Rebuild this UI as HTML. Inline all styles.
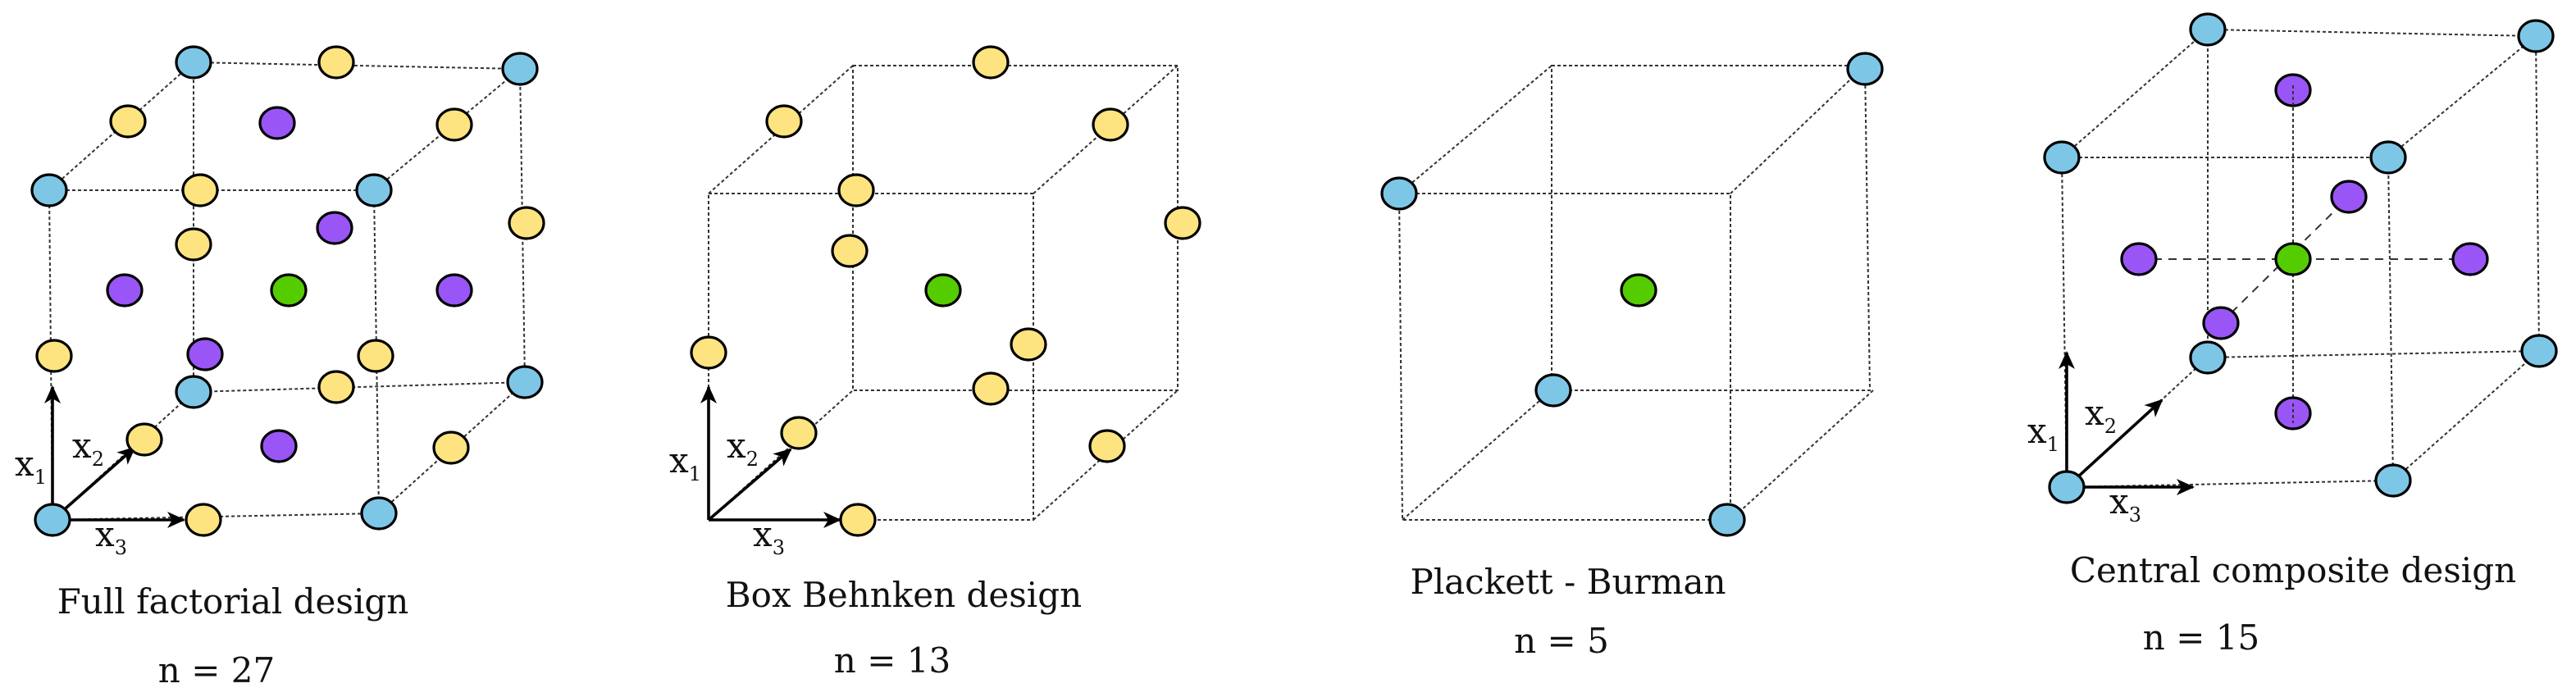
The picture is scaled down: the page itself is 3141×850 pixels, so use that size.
<!DOCTYPE html>
<html><head><meta charset="utf-8"><style>
html,body{margin:0;padding:0;background:#fff;}
svg{display:block;}
text{font-family:"DejaVu Serif","Liberation Serif",serif;fill:#111;}
</style></head><body>
<svg width="3141" height="850" viewBox="0 0 1570.5 425" xmlns="http://www.w3.org/2000/svg">
<defs>
<marker id="ah" markerWidth="12" markerHeight="10" refX="10" refY="5" orient="auto" markerUnits="userSpaceOnUse">
<path d="M0,0 L11,5 L0,10 L3,5 Z" fill="#000"/>
</marker>
<style>
.d{stroke:#333;stroke-width:1;stroke-dasharray:2,1.5;fill:none}
.ds{stroke:#333;stroke-width:1;stroke-dasharray:5,4;fill:none}
.b{fill:#7ec6e6;stroke:#000;stroke-width:1.6}
.y{fill:#fde480;stroke:#000;stroke-width:1.6}
.p{fill:#9955f5;stroke:#000;stroke-width:1.6}
.g{fill:#55cc00;stroke:#000;stroke-width:1.6}
.ax{stroke:#000;stroke-width:1.8;fill:none}
.lab{font-size:21px}
.sub{font-size:12px}
</style>
</defs>

<!-- Panel 1 -->
<g>
<path class="d" d="M118,38 L317,42 L320,233 L118,239 Z M30,116 L228,116 L231,313 L32,317 Z M30,116 L118,38 M228,116 L317,42 M231,313 L320,233 M32,317 L118,239"/>
<line class="ax" x1="32" y1="317" x2="32" y2="236" marker-end="url(#ah)"/>
<line class="ax" x1="32" y1="317" x2="82" y2="273" marker-end="url(#ah)"/>
<line class="ax" x1="32" y1="317" x2="112" y2="317" marker-end="url(#ah)"/>
<ellipse class="b" cx="118" cy="38" rx="10.5" ry="9.5"/><ellipse class="b" cx="317" cy="42" rx="10.5" ry="9.5"/>
<ellipse class="b" cx="30" cy="116" rx="10.5" ry="9.5"/><ellipse class="b" cx="228" cy="116" rx="10.5" ry="9.5"/>
<ellipse class="b" cx="118" cy="239" rx="10.5" ry="9.5"/><ellipse class="b" cx="320" cy="233" rx="10.5" ry="9.5"/>
<ellipse class="b" cx="32" cy="317" rx="10.5" ry="9.5"/><ellipse class="b" cx="231" cy="313" rx="10.5" ry="9.5"/>
<ellipse class="y" cx="205" cy="38" rx="10.5" ry="9.5"/><ellipse class="y" cx="78" cy="74" rx="10.5" ry="9.5"/>
<ellipse class="y" cx="277" cy="76" rx="10.5" ry="9.5"/><ellipse class="y" cx="122" cy="116" rx="10.5" ry="9.5"/>
<ellipse class="y" cx="321" cy="136" rx="10.5" ry="9.5"/><ellipse class="y" cx="118" cy="149" rx="10.5" ry="9.5"/>
<ellipse class="y" cx="33" cy="217" rx="10.5" ry="9.5"/><ellipse class="y" cx="229" cy="217" rx="10.5" ry="9.5"/>
<ellipse class="y" cx="205" cy="236" rx="10.5" ry="9.5"/><ellipse class="y" cx="88" cy="268" rx="10.5" ry="9.5"/>
<ellipse class="y" cx="275" cy="273" rx="10.5" ry="9.5"/><ellipse class="y" cx="124" cy="317" rx="10.5" ry="9.5"/>
<ellipse class="p" cx="169" cy="75" rx="10.5" ry="9.5"/><ellipse class="p" cx="204" cy="139" rx="10.5" ry="9.5"/>
<ellipse class="p" cx="76" cy="177" rx="10.5" ry="9.5"/><ellipse class="p" cx="277" cy="177" rx="10.5" ry="9.5"/>
<ellipse class="p" cx="125" cy="216" rx="10.5" ry="9.5"/><ellipse class="p" cx="170" cy="272" rx="10.5" ry="9.5"/>
<ellipse class="g" cx="176" cy="177" rx="10.5" ry="9.5"/>
<text class="lab" x="9" y="290">x<tspan class="sub" dy="5">1</tspan></text>
<text class="lab" x="44" y="279">x<tspan class="sub" dy="5">2</tspan></text>
<text class="lab" x="58" y="333">x<tspan class="sub" dy="5">3</tspan></text>
<text class="lab" x="142" y="374" text-anchor="middle">Full factorial design</text>
<text class="lab" x="132" y="416" text-anchor="middle">n = 27</text>
</g>

<!-- Panel 2 -->
<g>
<path class="d" d="M520,40 L718,40 L718,238 L520,238 Z M432,118 L630,118 L630,317 L432,317 Z M432,118 L520,40 M630,118 L718,40 M630,317 L718,238 M432,317 L520,238"/>
<line class="ax" x1="432" y1="317" x2="432" y2="236" marker-end="url(#ah)"/>
<line class="ax" x1="432" y1="317" x2="482" y2="274" marker-end="url(#ah)"/>
<line class="ax" x1="432" y1="317" x2="512" y2="317" marker-end="url(#ah)"/>
<ellipse class="y" cx="604" cy="38" rx="10.5" ry="9.5"/><ellipse class="y" cx="478" cy="74" rx="10.5" ry="9.5"/>
<ellipse class="y" cx="677" cy="76" rx="10.5" ry="9.5"/><ellipse class="y" cx="522" cy="116" rx="10.5" ry="9.5"/>
<ellipse class="y" cx="721" cy="136" rx="10.5" ry="9.5"/><ellipse class="y" cx="518" cy="153" rx="10.5" ry="9.5"/>
<ellipse class="y" cx="432" cy="215" rx="10.5" ry="9.5"/><ellipse class="y" cx="627" cy="210" rx="10.5" ry="9.5"/>
<ellipse class="y" cx="604" cy="237" rx="10.5" ry="9.5"/><ellipse class="y" cx="487" cy="264" rx="10.5" ry="9.5"/>
<ellipse class="y" cx="675" cy="272" rx="10.5" ry="9.5"/><ellipse class="y" cx="523" cy="317" rx="10.5" ry="9.5"/>
<ellipse class="g" cx="575" cy="177" rx="10.5" ry="9.5"/>
<text class="lab" x="408" y="288">x<tspan class="sub" dy="5">1</tspan></text>
<text class="lab" x="443" y="279">x<tspan class="sub" dy="5">2</tspan></text>
<text class="lab" x="459" y="333">x<tspan class="sub" dy="5">3</tspan></text>
<text class="lab" x="551" y="370" text-anchor="middle">Box Behnken design</text>
<text class="lab" x="544" y="410" text-anchor="middle">n = 13</text>
</g>

<!-- Panel 3 -->
<g>
<path class="d" d="M946,40 L1137,40 L1140,238 L946,238 Z M853,118 L1055,118 L1055,317 L855,317 Z M853,118 L946,40 M1055,118 L1137,40 M1055,317 L1142,238 M855,317 L946,238"/>
<ellipse class="b" cx="853" cy="118" rx="10.5" ry="9.5"/><ellipse class="b" cx="1137" cy="42" rx="10.5" ry="9.5"/>
<ellipse class="b" cx="947" cy="238" rx="10.5" ry="9.5"/><ellipse class="b" cx="1053" cy="317" rx="10.5" ry="9.5"/>
<ellipse class="g" cx="999" cy="177" rx="10.5" ry="9.5"/>
<text class="lab" x="956" y="362" text-anchor="middle">Plackett - Burman</text>
<text class="lab" x="952" y="398" text-anchor="middle">n = 5</text>
</g>

<!-- Panel 4 -->
<g>
<path class="d" d="M1346,18 L1546,22 L1548,214 L1346,218 Z M1257,96 L1456,96 L1459,293 L1260,297 Z M1257,96 L1346,18 M1456,96 L1546,22 M1459,293 L1548,214 M1260,297 L1346,218"/>
<path class="ds" d="M1304,158 L1506,158 M1354,197 L1432,120"/>
<path class="d" d="M1398,55 L1398,252"/>
<line class="ax" x1="1260" y1="297" x2="1260" y2="215" marker-end="url(#ah)"/>
<line class="ax" x1="1260" y1="297" x2="1318" y2="244" marker-end="url(#ah)"/>
<line class="ax" x1="1260" y1="297" x2="1337" y2="297" marker-end="url(#ah)"/>
<ellipse class="b" cx="1346" cy="18" rx="10.5" ry="9.5"/><ellipse class="b" cx="1546" cy="22" rx="10.5" ry="9.5"/>
<ellipse class="b" cx="1257" cy="96" rx="10.5" ry="9.5"/><ellipse class="b" cx="1456" cy="96" rx="10.5" ry="9.5"/>
<ellipse class="b" cx="1346" cy="218" rx="10.5" ry="9.5"/><ellipse class="b" cx="1548" cy="214" rx="10.5" ry="9.5"/>
<ellipse class="b" cx="1260" cy="297" rx="10.5" ry="9.5"/><ellipse class="b" cx="1459" cy="293" rx="10.5" ry="9.5"/>
<ellipse class="p" cx="1398" cy="55" rx="10.5" ry="9.5"/><ellipse class="p" cx="1432" cy="120" rx="10.5" ry="9.5"/>
<ellipse class="p" cx="1304" cy="158" rx="10.5" ry="9.5"/><ellipse class="p" cx="1506" cy="158" rx="10.5" ry="9.5"/>
<ellipse class="p" cx="1354" cy="197" rx="10.5" ry="9.5"/><ellipse class="p" cx="1398" cy="252" rx="10.5" ry="9.5"/>
<path class="d" d="M1398,52 L1398,64 M1398,246 L1398,258"/>
<ellipse class="g" cx="1398" cy="158" rx="10.5" ry="9.5"/>
<text class="lab" x="1236" y="270">x<tspan class="sub" dy="5">1</tspan></text>
<text class="lab" x="1271" y="259">x<tspan class="sub" dy="5">2</tspan></text>
<text class="lab" x="1286" y="313">x<tspan class="sub" dy="5">3</tspan></text>
<text class="lab" x="1398" y="355" text-anchor="middle">Central composite design</text>
<text class="lab" x="1342" y="396" text-anchor="middle">n = 15</text>
</g>
</svg>
</body></html>
